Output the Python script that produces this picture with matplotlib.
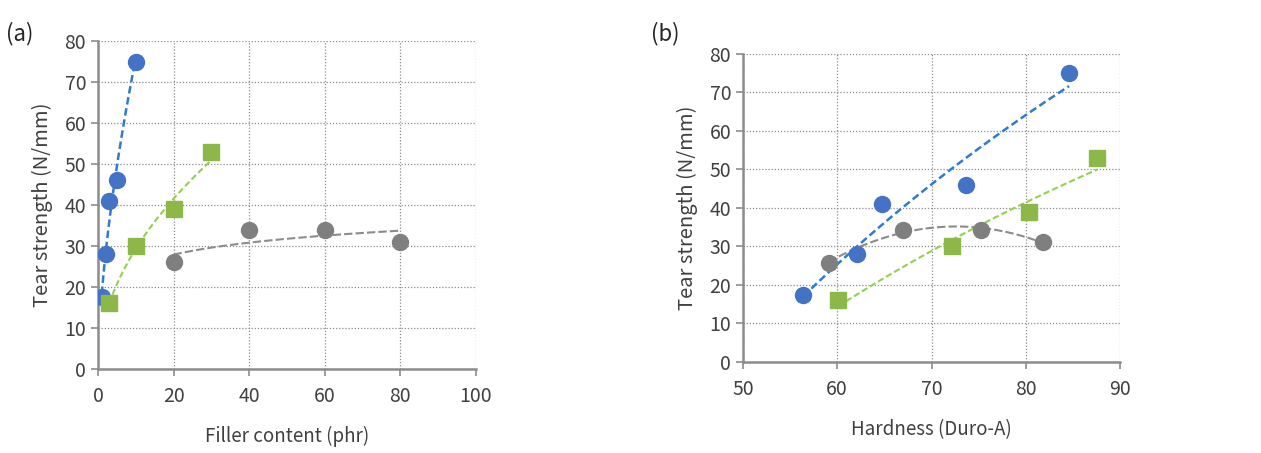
import numpy as np
import matplotlib
matplotlib.use("Agg")
import matplotlib.pyplot as plt

plt.rcParams['font.family'] = ['Noto Sans CJK JP', 'DejaVu Sans']

# (a) filler content vs tear strength
fill_blue = [1, 2, 3, 5, 10]
tear_blue = [17.5, 28, 41, 46, 75]
fill_green = [3, 10, 20, 30]
tear_green = [16, 30, 39, 53]
fill_gray = [20, 40, 60, 80]
tear_gray = [26, 34, 34, 31]

# (b) hardness vs tear strength
hard_blue = [56.4, 62.1, 64.8, 73.7, 84.6]
hard_green = [60.1, 72.2, 80.3, 87.6]
hard_gray = [59.1, 67.0, 75.2, 81.8]
tear_gray_b = [25.8, 34.2, 34.2, 31.2]

c_blue = '#4472C4'
c_green = '#8CB84A'
c_gray = '#7F7F7F'
t_blue = '#2E7BCF'
t_green = '#92D050'
t_gray = '#8C8C8C'
txt = '#404040'


def power_fit(x, y):
    b, lna = np.polyfit(np.log(x), np.log(y), 1)
    xs = np.linspace(min(x), max(x), 100)
    return xs, np.exp(lna) * xs ** b


def log_fit(x, y):
    a, b = np.polyfit(np.log(x), y, 1)
    xs = np.linspace(min(x), max(x), 100)
    return xs, a * np.log(xs) + b


def poly_fit(x, y, n=2):
    p = np.polyfit(x, y, n)
    xs = np.linspace(min(x), max(x), 100)
    return xs, np.polyval(p, xs)


def style(ax, xlim, xticks, xlabel):
    ax.set_xlim(*xlim)
    ax.set_ylim(0, 80)
    ax.set_xticks(xticks)
    ax.set_yticks(range(0, 81, 10))
    ax.grid(True, color='#8C8C8C', linestyle=(0, (1, 1.5)), linewidth=0.9)
    ax.set_axisbelow(True)
    for s in ['top', 'right']:
        ax.spines[s].set_visible(False)
    for s in ['left', 'bottom']:
        ax.spines[s].set_color('#8C8C8C')
        ax.spines[s].set_linewidth(1.8)
    ax.tick_params(colors='#8C8C8C', labelcolor=txt, labelsize=14, length=5, width=1.2)
    ax.tick_params(axis='x', pad=7)
    ax.set_xlabel(xlabel, fontsize=13.5, color=txt, labelpad=14)
    ax.set_ylabel('Tear strength (N/mm)', fontsize=14.5, color=txt, labelpad=8)


fig = plt.figure(figsize=(12.61, 4.53), dpi=100)

ax1 = fig.add_axes([0.0777, 0.1854, 0.2998, 0.724])
xs, ys = power_fit(fill_blue, tear_blue)
ax1.plot(xs, ys, '--', color=t_blue, lw=1.8, dashes=(3, 1.5))
xs, ys = power_fit(fill_green, tear_green)
ax1.plot(xs, ys, '--', color=t_green, lw=1.5, dashes=(3, 1.5))
xs, ys = log_fit(fill_gray, tear_gray)
ax1.plot(xs, ys, '--', color=t_gray, lw=1.5, dashes=(4, 1.5))
ax1.plot(fill_blue, tear_blue, 'o', color=c_blue, ms=11.5, mec=c_blue, zorder=3)
ax1.plot(fill_green, tear_green, 's', color=c_green, ms=11.5, mec=c_green, zorder=3)
ax1.plot(fill_gray, tear_gray, 'o', color=c_gray, ms=11.5, mec=c_gray, zorder=3)
style(ax1, (0, 100), range(0, 101, 20), 'Filler content (phr)')

ax2 = fig.add_axes([0.5892, 0.2009, 0.299, 0.680])
xs, ys = log_fit(hard_blue, tear_blue)
ax2.plot(xs, ys, '--', color=t_blue, lw=1.8, dashes=(3, 1.5))
xs, ys = log_fit(hard_green, tear_green)
ax2.plot(xs, ys, '--', color=t_green, lw=1.5, dashes=(3, 1.5))
xs, ys = poly_fit(hard_gray, tear_gray_b)
ax2.plot(xs, ys, '--', color=t_gray, lw=1.5, dashes=(4, 1.5))
ax2.plot(hard_blue, tear_blue, 'o', color=c_blue, ms=11.5, mec=c_blue, zorder=3)
ax2.plot(hard_green, tear_green, 's', color=c_green, ms=11.5, mec=c_green, zorder=3)
ax2.plot(hard_gray, tear_gray_b, 'o', color=c_gray, ms=11.5, mec=c_gray, zorder=3)
style(ax2, (50, 90), range(50, 91, 10), 'Hardness (Duro-A)')

fig.text(0.005, 0.925, '(a)', fontsize=16, color='#262626', va='center')
fig.text(0.516, 0.925, '(b)', fontsize=16, color='#262626', va='center')

fig.savefig('out.png', dpi=100)
